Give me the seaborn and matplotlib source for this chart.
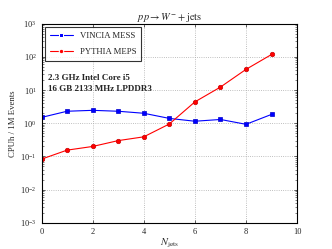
import matplotlib
matplotlib.use("Agg")
import matplotlib.pyplot as plt
import seaborn as sns
import pandas as pd
import numpy as np

njets = [0, 1, 2, 3, 4, 5, 6, 7, 8, 9]
vincia = [1.5, 2.3, 2.45, 2.3, 2.0, 1.4, 1.15, 1.3, 0.93, 1.85]
pythia = [0.083, 0.155, 0.2, 0.3, 0.39, 0.95, 4.4, 12.3, 42, 118]
labels = ["VINCIA MESS", "PYTHIA MEPS"]

df = pd.DataFrame({
    "N": njets * 2,
    "cpu": vincia + pythia,
    "series": [labels[0]] * len(njets) + [labels[1]] * len(njets),
})

sns.set_style("ticks")
plt.rcParams["font.family"] = ["Liberation Serif", "DejaVu Serif"]
plt.rcParams["mathtext.fontset"] = "stix"
plt.rcParams["xtick.direction"] = "in"
plt.rcParams["ytick.direction"] = "in"

fig = plt.figure(figsize=(3.32, 2.49), dpi=100)
ax = fig.add_axes([0.125, 0.105, 0.77, 0.80])

sns.lineplot(data=df, x="N", y="cpu", hue="series", style="series",
             markers={labels[0]: "s", labels[1]: "o"}, dashes=False,
             palette={labels[0]: "#0000ff", labels[1]: "#ff0000"},
             markersize=3.2, linewidth=0.8, ax=ax)
for line, c in zip(ax.lines, ["#0000cc", "#cc0000"]):
    line.set_markeredgecolor(c)
    line.set_markeredgewidth(0.5)

ax.set_yscale("log")
ax.set_xlim(0, 10)
ax.set_ylim(1e-3, 1e3)
ax.set_xticks([0, 2, 4, 6, 8, 10])
ax.set_yticks([1e-3, 1e-2, 1e-1, 1, 10, 100, 1000])
ax.tick_params(labelsize=6, top=True, right=True, length=2.5, width=0.5)
ax.tick_params(which="minor", length=1.2, width=0.4, top=True, right=True)
ax.grid(True, which="major", color="#aaaaaa", linestyle=":", linewidth=0.6)
for s in ax.spines.values():
    s.set_linewidth(0.8)
    s.set_color("black")

ax.set_xlabel(r"$N_{\rm jets}$", fontsize=7.5, labelpad=1)
ax.set_ylabel("CPUh / 1M Events", fontsize=6.3, labelpad=2)
ax.set_title(r"$pp \rightarrow W^{-} + {\rm jets}$", fontsize=7.5, pad=2)

handles, labs = ax.get_legend_handles_labels()
leg = ax.legend(handles, labs, loc="upper left", fontsize=6.3, frameon=True,
                fancybox=False, edgecolor="black", handlelength=2.6,
                borderaxespad=0.4, labelspacing=0.9, borderpad=0.55)
leg.get_frame().set_linewidth(0.8)

ax.text(0.025, 0.745, "2.3 GHz Intel Core i5\n16 GB 2133 MHz LPDDR3",
        transform=ax.transAxes, fontsize=6.5, fontweight="bold",
        va="top", ha="left", linespacing=1.5)

fig.savefig("out.png", dpi=100)
